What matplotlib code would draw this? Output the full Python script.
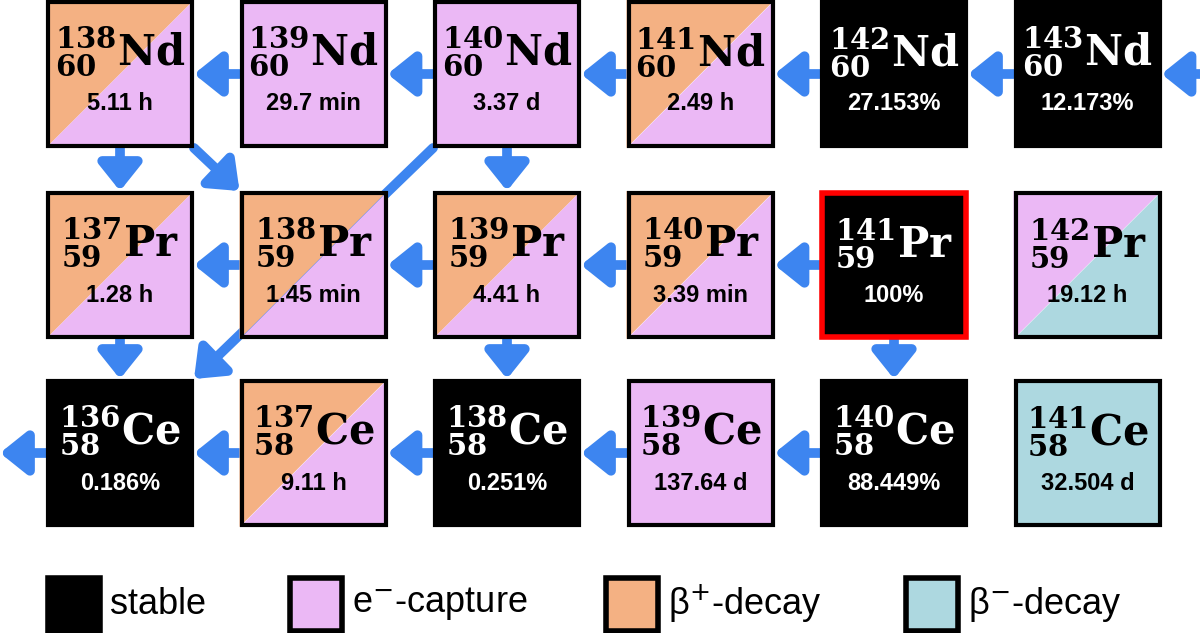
import matplotlib
matplotlib.use('Agg')
import matplotlib.pyplot as plt
from matplotlib.patches import Rectangle, Polygon, FancyArrowPatch

# nuclide grid
ROWS = [0, 0, 0, 0, 0, 0, 1, 1, 1, 1, 1, 1, 2, 2, 2, 2, 2, 2]
COLS = [0, 1, 2, 3, 4, 5] * 3
MASS = [138, 139, 140, 141, 142, 143, 137, 138, 139, 140, 141, 142, 136, 137, 138, 139, 140, 141]
ZNUM = [60] * 6 + [59] * 6 + [58] * 6
ELEM = ['Nd'] * 6 + ['Pr'] * 6 + ['Ce'] * 6
LABELS = ['5.11 h', '29.7 min', '3.37 d', '2.49 h', '27.153%', '12.173%',
          '1.28 h', '1.45 min', '4.41 h', '3.39 min', '100%', '19.12 h',
          '0.186%', '9.11 h', '0.251%', '137.64 d', '88.449%', '32.504 d']
# 's' stable, 'ec' pure e-capture, 'bp' beta+/ec, 'bm' ec/beta-, 'bmo' pure beta-
KIND = ['bp', 'ec', 'ec', 'bp', 's', 's',
        'bp', 'bp', 'bp', 'bp', 's', 'bm',
        's', 'bp', 's', 'ec', 's', 'bmo']
HIGHLIGHT = 10

# arrows as (row, col) -> (row, col); col 6 / -1 means off-chart
ARROWS = [((0, 1), (0, 0)), ((0, 2), (0, 1)), ((0, 3), (0, 2)), ((0, 4), (0, 3)), ((0, 5), (0, 4)),
          ((0, 6), (0, 5)),
          ((1, 1), (1, 0)), ((1, 2), (1, 1)), ((1, 3), (1, 2)), ((1, 4), (1, 3)),
          ((2, 0), (2, -1)), ((2, 1), (2, 0)), ((2, 2), (2, 1)), ((2, 3), (2, 2)), ((2, 4), (2, 3)),
          ((0, 0), (1, 0)), ((0, 2), (1, 2)), ((1, 0), (2, 0)), ((1, 2), (2, 2)), ((1, 4), (2, 4)),
          ((0, 0), (1, 1)), ((0, 2), (2, 0))]

PINK = '#ebb8f5'
ORANGE = '#f4b183'
BLUE = '#add8e0'
ARROW = '#3d85f0'

X0, DX, W = 46, 193.5, 148
Y0 = [0, 191, 379]


def center(r, c):
    return X0 + c * DX + W / 2, Y0[r] + W / 2


fig = plt.figure(figsize=(12, 6.33), dpi=100)
ax = fig.add_axes([0, 0, 1, 1])
ax.set_xlim(0, 1200)
ax.set_ylim(633, 0)
ax.axis('off')

# arrows
for (r1, c1), (r2, c2) in ARROWS:
    x1, y1 = center(r1, c1)
    x2, y2 = center(r2, c2)
    dx, dy = x2 - x1, y2 - y1
    if abs(dy) < 1:
        s = 1 if dx > 0 else -1
        p1 = (x1 + s * W / 2, y1)
        p2 = (x2 - s * W / 2, y2)
        if c1 == 6:
            p1 = (1200, y1)
        if c2 == -1:
            p2 = (0, y2)
    elif abs(dx) < 1:
        p1 = (x1, y1 + W / 2)
        p2 = (x2, y2 - W / 2)
    else:
        sx = 1 if dx > 0 else -1
        p1 = (x1 + sx * W / 2, y1 + W / 2)
        p2 = (x2 - sx * W / 2, y2 - W / 2)
    ax.add_patch(FancyArrowPatch(p1, p2, arrowstyle='-|>,head_length=10,head_width=8',
                                 color=ARROW, lw=7, shrinkA=0, shrinkB=0, zorder=1,
                                 mutation_scale=1.6))

# boxes
for i in range(len(MASS)):
    x = X0 + COLS[i] * DX
    y = Y0[ROWS[i]]
    k = KIND[i]
    if k == 's':
        ax.add_patch(Rectangle((x, y), W, W, fc='black', zorder=2))
    elif k in ('ec', 'bmo'):
        ax.add_patch(Rectangle((x, y), W, W, fc=PINK if k == 'ec' else BLUE, zorder=2))
    else:
        upper = ORANGE if k == 'bp' else PINK
        lower = PINK if k == 'bp' else BLUE
        ax.add_patch(Polygon([(x, y), (x + W, y), (x, y + W)], fc=upper, ec='none', zorder=2))
        ax.add_patch(Polygon([(x + W, y), (x + W, y + W), (x, y + W)], fc=lower, ec='none', zorder=2))
    ec = 'red' if i == HIGHLIGHT else 'black'
    ax.add_patch(Rectangle((x + 2, y + 2), W - 4, W - 4, fc='none', ec=ec,
                           lw=4 if i == HIGHLIGHT else 3, zorder=3))
    tc = 'white' if k == 's' else 'black'
    ax.text(x + W / 2, y + 52,
            r'${}^{\mathbf{%d}}_{\mathbf{%d}}\mathbf{%s}$' % (MASS[i], ZNUM[i], ELEM[i]),
            ha='center', va='center', fontsize=30, color=tc, zorder=4,
            math_fontfamily='dejavuserif')
    ax.text(x + W / 2, y + 104, LABELS[i], ha='center', va='center', fontsize=17,
            fontweight='bold', color=tc, family='Liberation Sans', zorder=4)

# legend
LEG_TEXT = ['stable', r'e$^{-}$-capture', r'β$^{+}$-decay', r'β$^{-}$-decay']
LEG_COL = ['black', PINK, ORANGE, BLUE]
LEG_X = [48, 290, 606, 906]
for lx, t, c in zip(LEG_X, LEG_TEXT, LEG_COL):
    ax.add_patch(Rectangle((lx, 578), 52, 53, fc=c, ec='black', lw=4))
    ax.text(lx + 62, 604, t, ha='left', va='center', fontsize=26, family='Liberation Sans',
            math_fontfamily='dejavusans')

fig.savefig('out.png', dpi=100)
